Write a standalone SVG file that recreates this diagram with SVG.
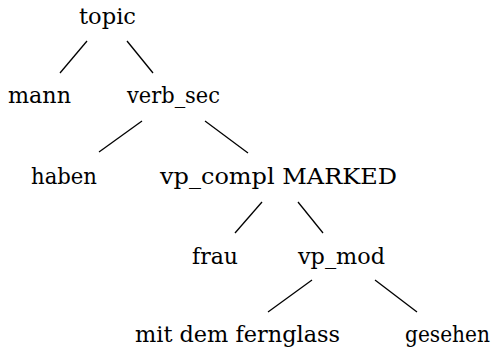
<svg xmlns="http://www.w3.org/2000/svg" width="495" height="349" viewBox="0 0 495 349">
  <style>
    text { font-family: "DejaVu Serif", serif; font-size: 22px; fill: #000; }
    .edge { stroke: #000; stroke-width: 1.3; fill: none; }
  </style>
  <rect width="495" height="349" fill="#fff"/>
  <g id="edges">
    <line class="edge" x1="87" y1="41" x2="60" y2="73"/>
    <line class="edge" x1="127" y1="41" x2="153" y2="73"/>
    <line class="edge" x1="142" y1="121" x2="99" y2="152"/>
    <line class="edge" x1="205" y1="121" x2="248" y2="153"/>
    <line class="edge" x1="262" y1="202" x2="235" y2="233" stroke-width="2"/>
    <line class="edge" x1="298" y1="202" x2="323" y2="233"/>
    <line class="edge" x1="312" y1="280" x2="268" y2="312"/>
    <line class="edge" x1="375" y1="280" x2="417" y2="312"/>
  </g>
  <g id="topic"><text x="79" y="24" textLength="57" lengthAdjust="spacingAndGlyphs">topic</text></g>
  <g id="mann"><text x="8" y="103" textLength="63" lengthAdjust="spacingAndGlyphs">mann</text></g>
  <g id="verb_sec"><text x="127" y="103" textLength="93" lengthAdjust="spacingAndGlyphs">verb_sec</text></g>
  <g id="haben"><text x="31" y="184" textLength="66" lengthAdjust="spacingAndGlyphs">haben</text></g>
  <g id="vp_compl"><text x="160" y="184" textLength="237" lengthAdjust="spacingAndGlyphs">vp_compl MARKED</text></g>
  <g id="frau"><text x="192" y="264" textLength="46" lengthAdjust="spacingAndGlyphs">frau</text></g>
  <g id="vp_mod"><text x="298" y="264" textLength="87" lengthAdjust="spacingAndGlyphs">vp_mod</text></g>
  <g id="mit_dem_fernglass"><text x="135" y="342" textLength="205" lengthAdjust="spacingAndGlyphs">mit dem fernglass</text></g>
  <g id="gesehen"><text x="405" y="342" font-size="21" textLength="85" lengthAdjust="spacingAndGlyphs">gesehen</text></g>
</svg>
